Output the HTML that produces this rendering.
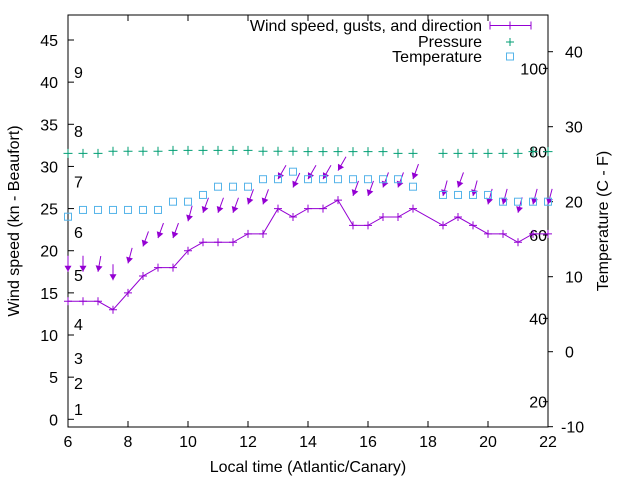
<!DOCTYPE html>
<html><head><meta charset="utf-8"><style>
body{margin:0;background:#fff}
svg{display:block;font-family:"Liberation Sans",sans-serif}
</style></head><body>
<svg id="chart" width="640" height="480" viewBox="0 0 640 480">
<g id="axes"></g>
<g id="marks"></g>
<g id="legend">
 <text x="482" y="31" font-size="16" text-anchor="end">Wind speed, gusts, and direction</text>
 <line x1="490" y1="25.5" x2="531" y2="25.5" stroke="#9400d3"/>
 <path d="M490 21.5v8M531 21.5v8M510 21.5v8" stroke="#9400d3"/>
 <text x="482" y="47" font-size="16" text-anchor="end">Pressure</text>
 <path d="M506 42h8M510 38v8" stroke="#009e73"/>
 <text x="482" y="62" font-size="16" text-anchor="end">Temperature</text>
 <rect x="506.5" y="53" width="7" height="7" fill="none" stroke="#56b4e9"/>
</g>
</svg>
<script>
const times=[6,6.5,7,7.5,8,8.5,9,9.5,10,10.5,11,11.5,12,12.5,13,13.5,14,14.5,15,15.5,16,16.5,17,17.5,18.5,19,19.5,20,20.5,21,21.5,22];
const speed=[14,14,14,13,15,17,18,18,20,21,21,21,22,22,25,24,25,25,26,23,23,24,24,25,23,24,23,22,22,21,22,22];
const gust=[17.5,17.5,17.5,16.5,18.5,20.5,21.5,21.5,23.5,24.5,24.5,24.5,25.5,25.5,28.5,27.5,28.5,28.5,29.5,26.5,26.5,27.5,27.5,28.5,26.5,27.5,26.5,25.5,25.5,24.5,25.5,25.5];
const direction=[0,0,10,0,15,20,20,20,15,20,20,20,20,20,30,25,30,30,30,20,20,20,20,20,15,20,15,15,15,15,15,15];
const pressure=[31.55,31.55,31.55,31.8,31.8,31.8,31.8,31.9,31.9,31.9,31.9,31.9,31.9,31.8,31.8,31.8,31.75,31.75,31.75,31.75,31.75,31.75,31.55,31.55,31.55,31.55,31.55,31.55,31.55,31.55,31.75,31.75];
const tempC=[18,18.9,18.9,18.9,18.9,18.9,18.9,20,20,20.9,22,22,22,23,23,24,23,23,23,23,23,23,23,22,20.9,20.9,20.9,20.9,20,20,20,20];
const xTicks=[6,8,10,12,14,16,18,20,22];
const yTicks=[0,5,10,15,20,25,30,35,40,45];
const cTicks=[-10,0,10,20,30,40];
const fTicks=[20,40,60,80,100];
const beaufort=[[1,1.2],[2,4.3],[3,7.3],[4,11.3],[5,17.1],[6,22.2],[7,28.2],[8,34.2],[9,41.2]];
const L=68,R=548,T=15,B=427;
const X=t=>L+(t-6)*(R-L)/16;
const Y=v=>419.3-v*(419.3-40)/45;
const YC=c=>351.7-c*7.5;
const NS="http://www.w3.org/2000/svg";
function mk(tag,attrs,parent){const e=document.createElementNS(NS,tag);for(const k in attrs)e.setAttribute(k,attrs[k]);parent.appendChild(e);return e;}
const ax=document.getElementById('axes'),mg=document.getElementById('marks');
let e=mk('rect',{x:L,y:T,width:R-L,height:B-T,fill:'none',stroke:'#000'},ax);


xTicks.forEach(t=>{
 let p=mk('path',{d:`M${X(t)} ${B}v-6M${X(t)} ${T}v6`,stroke:'#000'},ax);
 
 
 let s=mk('text',{x:X(t),y:B+20,'font-size':16,'text-anchor':'middle'},ax);s.textContent=t;
 
 
});
yTicks.forEach(v=>{
 let p=mk('path',{d:`M${L} ${Y(v)}h6`,stroke:'#000'},ax);
 
 
 let s=mk('text',{x:L-10,y:Y(v)+6,'font-size':16,'text-anchor':'end'},ax);s.textContent=v;
 
 
});
cTicks.forEach(c=>{
 let p=mk('path',{d:`M${R} ${YC(c)}h5`,stroke:'#000'},ax);
 
 
 let s=mk('text',{x:c<0?561:565,y:YC(c)+6,'font-size':16},ax);s.textContent=c;
 
 
});
fTicks.forEach(f=>{
 const y=YC((f-32)*5/9);
 let p=mk('path',{d:`M${R} ${y}h-5`,stroke:'#000'},ax);
 
 
 let s=mk('text',{x:R-1,y:y+6,'font-size':16,'text-anchor':'end'},ax);s.textContent=f;
 
 
});
beaufort.forEach(b=>{
 let s=mk('text',{x:74,y:Y(b[1])+6,'font-size':16},ax);s.textContent=b[0];
 
 
});
e=mk('text',{x:308,y:472,'font-size':16,'text-anchor':'middle'},ax);e.textContent='Local time (Atlantic/Canary)';


e=mk('text',{x:0,y:0,'font-size':16,'text-anchor':'middle',transform:'translate(19 221) rotate(-90)'},ax);e.textContent='Wind speed (kn - Beaufort)';


e=mk('text',{x:0,y:0,'font-size':16,'text-anchor':'middle',transform:'translate(608 221) rotate(-90)'},ax);e.textContent='Temperature (C - F)';


let d='';times.forEach((t,i)=>{d+=(i?'L':'M')+X(t)+' '+Y(speed[i]);});
e=mk('path',{d:d,fill:'none',stroke:'#9400d3'},mg);


times.forEach((t,i)=>{
 let p=mk('path',{d:`M${X(t)-4} ${Y(speed[i])}h8M${X(t)} ${Y(speed[i])-4}v8`,stroke:'#9400d3'},mg);
 
 
 const x=X(t),y=Y(gust[i]),a=direction[i]*Math.PI/180,len=16;
 const dx=Math.sin(a),dy=-Math.cos(a);
 const x0=x+dx*len,y0=y+dy*len;
 let g=mk('line',{x1:x0,y1:y0,x2:x,y2:y,stroke:'#9400d3'},mg);
 
 
 const px=-dy,py=dx,h=6,w=3.5;
 let hd=mk('polygon',{points:`${x},${y} ${x+dx*h+px*w},${y+dy*h+py*w} ${x+dx*h-px*w},${y+dy*h-py*w}`,fill:'#9400d3'},mg);
 
 
 let pr=mk('path',{d:`M${X(t)-4.5} ${Y(pressure[i])}h9M${X(t)} ${Y(pressure[i])-4.5}v9`,stroke:'#009e73'},mg);
 
 
 let sq=mk('rect',{x:X(t)-3.5,y:YC(tempC[i])-3.5,width:7,height:7,fill:'none',stroke:'#56b4e9'},mg);
 
 
});
</script>
</body></html>
